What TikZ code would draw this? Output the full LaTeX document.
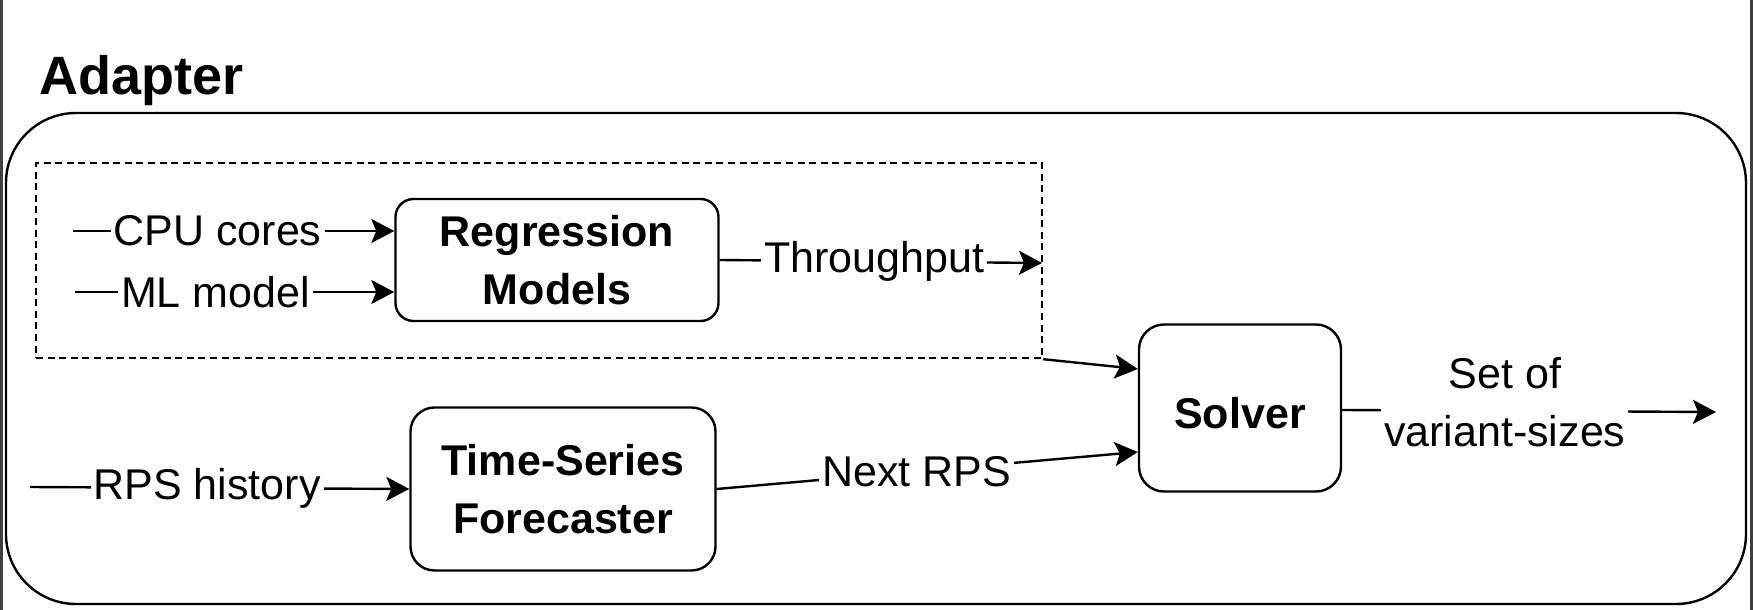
\documentclass[tikz,border=0pt]{standalone}
\usepackage{fontspec}
\setmainfont{Liberation Sans}
\usetikzlibrary{arrows.meta,calc}
\begin{document}
\begin{tikzpicture}[x=0.5pt,y=-0.5pt,
  lw/.style={line width=1.2pt},
  txt/.style={font=\fontsize{21.5}{29}\selectfont, inner sep=0pt},
  box/.style={draw, lw, align=center, inner sep=0pt,
    font=\fontsize{21.5}{29}\selectfont\bfseries},
  lbl/.style={txt, fill=white, inner sep=1.5pt, align=center},
  arr/.style={lw, -{Stealth[length=11.5pt,width=12pt,inset=2.5pt]}},
  grpbox/.style={draw, lw, dash pattern=on 3.5pt off 2.3pt, inner sep=0pt},
  edge/.style={draw=black!75, line width=1.5pt}
]
\useasboundingbox (0,0) rectangle (1753,610);
% frame edges
\draw[edge] (1.5,0) -- (1.5,610);
\draw[edge] (1751.5,0) -- (1751.5,610);

% title
\node[anchor=base west, inner sep=0pt, font=\fontsize{27}{32}\selectfont\bfseries] (title) at (39,95) {Adapter};

% outer rounded container
\node[draw, lw, rounded corners=35pt, minimum width=870pt, minimum height=245.5pt, inner sep=0pt] (outer) at (876,358.5) {};

% dashed group
\node[grpbox, minimum width=503pt, minimum height=97.5pt] (grp) at (539,260.5) {};

% boxes
\node[box, rounded corners=9pt, minimum width=161.5pt, minimum height=61pt] (reg) at (557,260) {Regression\\Models};
\node[box, rounded corners=12pt, minimum width=152.5pt, minimum height=81.5pt] (fc) at (563,489) {Time-Series\\Forecaster};
\node[box, rounded corners=12.5pt, minimum width=101pt, minimum height=83.5pt, text height=21pt] (sol) at (1240,408) {Solver};

% free ends
\coordinate (cpuin) at (73,231);
\coordinate (mlin) at (75,292);
\coordinate (rpsin) at (30,487);
\coordinate (tpout) at (1042,263);
\coordinate (out) at (1716,412);

% connectors
\draw[arr] (cpuin) -- node[lbl, pos=0.45] (l1) {CPU cores} (cpuin -| reg.west);
\draw[arr] (mlin) -- node[lbl, pos=0.44] (l2) {ML model} (mlin -| reg.west);
\draw[arr] (reg.east) -- node[lbl, pos=0.48] (l3) {Throughput} (tpout);
\draw[arr] (grp.south east) -- ($(sol.west)+(0,-39)$);
\draw[arr] (rpsin) -- node[lbl, pos=0.467] (l4) {RPS history} (fc.west);
\draw[arr] (fc.east) -- node[lbl, pos=0.475] (l5) {Next RPS} ($(sol.west)+(0,44)$);
\draw[arr] ($(sol.east)+(0,2)$) -- node[lbl, pos=0.435, yshift=4.5pt] (l6) {Set of\\variant-sizes} (out);
\end{tikzpicture}
\end{document}
